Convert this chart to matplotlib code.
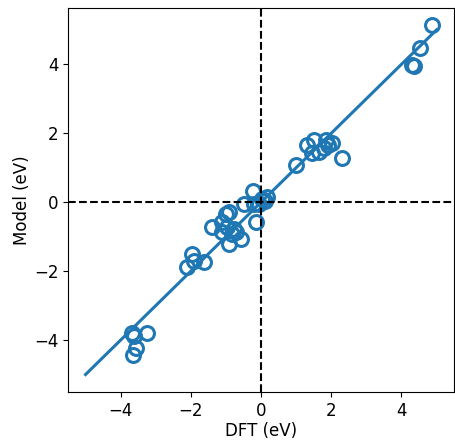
import numpy as np
import matplotlib
matplotlib.use('Agg')
import matplotlib.pyplot as plt

dft = [4.86, 4.54, 4.31, 4.37, 2.31, 0.99,
       1.31, 1.51, 1.86, 2.03, 1.46, 1.66, 1.80, 1.90,
       -0.23, -0.49, 0.02, 0.17, -0.06, -0.20, 0.10, -0.14,
       -1.40, -1.00, -0.91, -1.11, -0.97, -0.77, -0.83, -0.57, -0.91, -0.71, -1.11,
       -1.97, -1.91, -2.11, -1.63,
       -3.69, -3.26, -3.63, -3.57, -3.66]
model = [5.13, 4.47, 3.98, 3.95, 1.27, 1.07,
         1.67, 1.82, 1.82, 1.73, 1.44, 1.47, 1.58, 1.67,
         0.32, -0.06, 0.09, 0.14, -0.06, -0.06, 0.05, -0.58,
         -0.72, -0.35, -0.29, -0.58, -0.72, -0.78, -0.92, -1.07, -1.21, -0.86, -0.86,
         -1.50, -1.70, -1.87, -1.73,
         -3.80, -3.78, -3.89, -4.24, -4.44]
fit_x = [-5, 5]
fit_y = [-5, 5]

fig = plt.figure(figsize=(4.55, 4.41), dpi=100)
ax = fig.add_axes([68/455, 49/441, 386/455, 384/441])

ax.plot(dft, model, 'o', mfc='none', mec='C0', ms=10, mew=2.2)
ax.plot(fit_x, fit_y, color='C0', lw=2.2)
ax.axhline(0, color='k', ls='--', lw=1.5)
ax.axvline(0, color='k', ls='--', lw=1.5)

ax.set_xlabel('DFT (eV)', fontsize=12, labelpad=2)
ax.set_ylabel('Model (eV)', fontsize=12, labelpad=2)
ax.tick_params(labelsize=12)

fig.savefig('out.png', dpi=100)
